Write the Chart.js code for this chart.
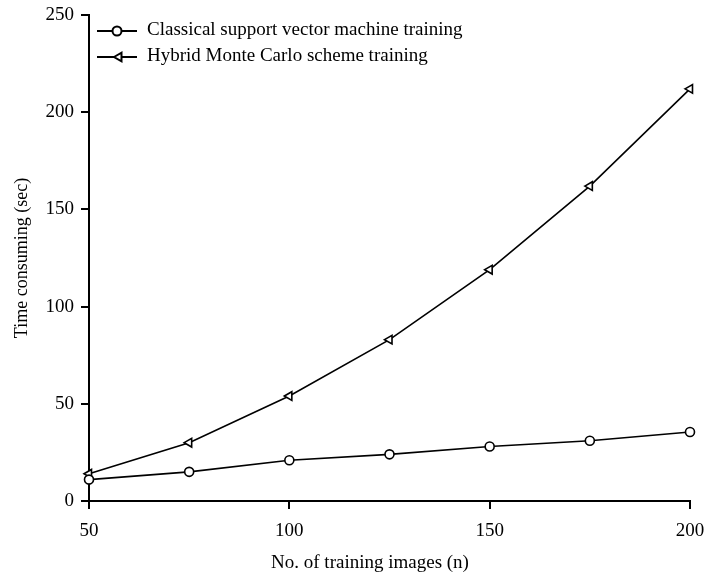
<!DOCTYPE html>
<html>
<head>
<meta charset="utf-8">
<script src="https://cdn.jsdelivr.net/npm/chart.js@4/dist/chart.umd.min.js"></script>
<style>
  html, body { margin: 0; padding: 0; background: #fff; }
  #wrap { width: 704px; height: 575px; }
</style>
</head>
<body>
<div id="wrap"><canvas id="timeChart"></canvas></div>
<script>
// Datos
const trainingImages = [50, 75, 100, 125, 150, 175, 200];
const svmTime = [11, 15, 21, 24, 28, 31, 35.5];
const hmcTime = [14, 30, 54, 83, 119, 162, 212];
const seriesNames = ['Classical support vector machine training', 'Hybrid Monte Carlo scheme training'];
const xTicks = [50, 100, 150, 200];
const yTicks = [0, 50, 100, 150, 200, 250];
const xTitle = 'No. of training images (n)';

const serif = '"Liberation Serif", "Times New Roman", serif';

// leyenda dibujada a mano: línea + marcador + texto
// (el título del eje x va corrido a la izquierda como en la figura)
const legendPlugin = {
    id: 'inlineLegend',
    afterDraw(chart) {
        const ctx = chart.ctx;
        const rows = [31, 57];
        chart.data.datasets.forEach((ds, i) => {
            const y = rows[i];
            ctx.save();
            ctx.strokeStyle = '#000';
            ctx.lineWidth = 2;
            ctx.beginPath();
            ctx.moveTo(97, y);
            ctx.lineTo(137, y);
            ctx.stroke();
            ctx.fillStyle = '#fff';
            ctx.strokeStyle = '#000';
            Chart.helpers.drawPoint(ctx, {
                pointStyle: ds.pointStyle,
                radius: ds.pointRadius,
                rotation: ds.pointRotation || 0,
                borderWidth: 1.5
            }, i === 0 ? 117 : 119, y);
            ctx.fillStyle = '#000';
            ctx.font = '19px ' + serif;
            ctx.textBaseline = 'middle';
            ctx.fillText(seriesNames[i], 147, y - 1);
            ctx.restore();
        });

        ctx.save();
        ctx.fillStyle = '#000';
        ctx.font = '19px ' + serif;
        ctx.textAlign = 'center';
        ctx.textBaseline = 'middle';
        ctx.fillText(xTitle, 370, 563);
        ctx.restore();
    }
};

const toPoints = (ys) => trainingImages.map((x, i) => ({ x: x, y: ys[i] }));

new Chart(document.getElementById('timeChart'), {
    type: 'line',
    data: {
        datasets: [
            {
                label: seriesNames[0],
                data: toPoints(svmTime),
                borderColor: '#000',
                borderWidth: 1.6,
                backgroundColor: '#fff',
                pointStyle: 'circle',
                pointRadius: 4.5,
                pointBorderWidth: 1.6,
                pointBackgroundColor: '#fff',
                pointBorderColor: '#000',
                clip: false
            },
            {
                label: seriesNames[1],
                data: toPoints(hmcTime),
                borderColor: '#000',
                borderWidth: 1.6,
                backgroundColor: '#fff',
                pointStyle: 'triangle',
                pointRotation: -90,
                pointRadius: 5,
                pointBorderWidth: 1.6,
                pointBackgroundColor: '#fff',
                pointBorderColor: '#000',
                clip: false
            }
        ]
    },
    options: {
        responsive: true,
        maintainAspectRatio: false,
        animation: false,
        layout: { padding: 0 },
        plugins: {
            legend: { display: false },
            tooltip: { enabled: false }
        },
        scales: {
            x: {
                type: 'linear',
                min: 50,
                max: 200,
                afterFit: (s) => {
                    s.height = 74;
                    s.paddingLeft = 0;
                    s.paddingRight = 14;
                },
                afterBuildTicks: (s) => { s.ticks = xTicks.map(v => ({ value: v })); },
                ticks: {
                    color: '#000',
                    font: { family: serif, size: 19 },
                    padding: 11,
                    maxRotation: 0
                },
                grid: {
                    drawOnChartArea: false,
                    drawTicks: true,
                    tickLength: 8,
                    color: '#000',
                    lineWidth: 2
                },
                border: { display: true, color: '#000', width: 2 },
                title: { display: false }
            },
            y: {
                min: 0,
                max: 250,
                afterFit: (s) => {
                    s.width = 89;
                    s.paddingTop = 15;
                    s.paddingBottom = 0;
                },
                afterBuildTicks: (s) => { s.ticks = yTicks.map(v => ({ value: v })); },
                ticks: {
                    color: '#000',
                    font: { family: serif, size: 19 },
                    padding: 7
                },
                grid: {
                    drawOnChartArea: false,
                    drawTicks: true,
                    tickLength: 8,
                    color: '#000',
                    lineWidth: 2
                },
                border: { display: true, color: '#000', width: 2 },
                title: {
                    display: true,
                    text: 'Time consuming (sec)',
                    color: '#000',
                    font: { family: serif, size: 18 },
                    padding: { top: 11, bottom: 0 }
                }
            }
        }
    },
    plugins: [legendPlugin]
});
</script>
</body>
</html>
